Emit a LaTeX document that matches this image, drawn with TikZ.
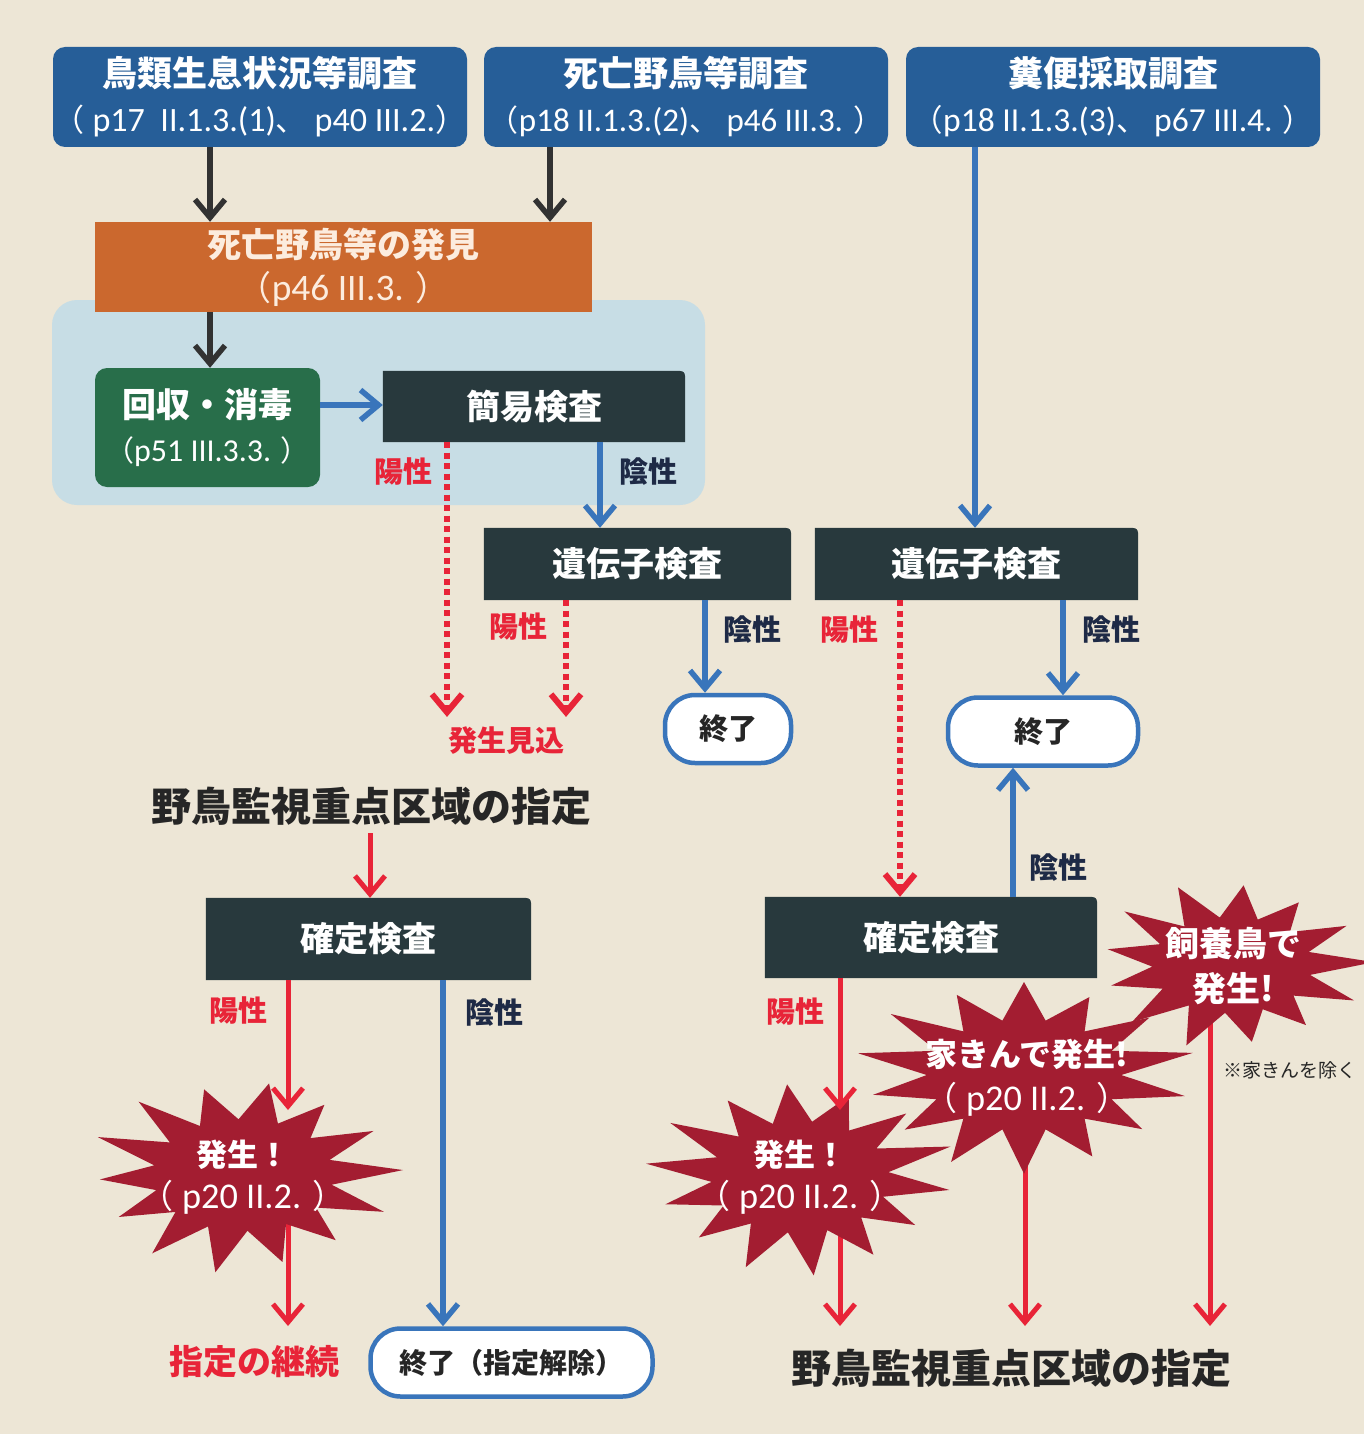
\documentclass[tikz,border=0pt]{standalone}
\usepackage{fontspec}
\setmainfont{Noto Sans CJK JP}
\newfontfamily\latfont{Carlito}[Scale=1.1]
\usetikzlibrary{arrows.meta}
\pgfdeclarelayer{bg}\pgfdeclarelayer{back}
\pgfsetlayers{bg,back,main}
\definecolor{bgc}{RGB}{237,230,214}
\definecolor{lb}{RGB}{199,221,229}
\definecolor{tb}{RGB}{38,94,152}
\definecolor{orc}{RGB}{203,104,46}
\definecolor{orctext}{RGB}{252,236,222}
\definecolor{grc}{RGB}{40,110,74}
\definecolor{dk}{RGB}{40,57,61}
\definecolor{arblue}{RGB}{57,117,187}
\definecolor{rd}{RGB}{232,36,56}
\definecolor{stared}{RGB}{163,29,49}
\definecolor{navy}{RGB}{30,42,70}
\definecolor{txd}{RGB}{38,38,38}
\definecolor{dkarrow}{RGB}{50,50,50}
\newcommand\fs[2]{\fontsize{#1pt}{#2pt}\selectfont}
\newcommand\lat[1]{{\latfont #1}}
\newcommand\dkfill[1]{\begin{pgfonlayer}{back}\fill[dk] (#1.south west) -- (#1.north west) -- ([xshift=-12pt]#1.north east) .. controls (#1.north east) .. ([yshift=-12pt]#1.north east) -- (#1.south east) -- cycle;\end{pgfonlayer}}
% cx cy rx ry ratio (2n-1) rot
\newcommand\burst[7]{\fill[stared] plot[variable=\t, samples at={0,...,#6}] ({#1+#3*ifthenelse(mod(\t,2)==0,1+0.07*sin(\t*137),#5)*cos(\t*360/(#6+1)+#7)},{#2+#4*ifthenelse(mod(\t,2)==0,1+0.07*sin(\t*137),#5)*sin(\t*360/(#6+1)+#7)}) -- cycle;}
\begin{document}
\begin{tikzpicture}[x=1pt,y=-1pt,
  topbox/.style={fill=tb, rounded corners=12pt, text=white, align=center, minimum height=100pt, inner sep=0pt, font={\fs{35}{45}}},
  obox/.style={fill=orc, text=orctext, align=center, inner sep=0pt, font={\fs{34}{43}}},
  gbox/.style={fill=grc, rounded corners=12pt, text=white, align=center, inner sep=0pt, font={\fs{34}{44}}},
  dkbox/.style={text=white, inner sep=0pt, font={\fs{34}{40}\bfseries}},
  endbox/.style={draw=arblue, line width=4.5pt, fill=white, rounded corners=30pt, text=txd, inner sep=0pt, font={\fs{29}{34}\bfseries}},
  lab/.style={inner sep=2pt, font={\fs{29}{34}\bfseries}},
  poslab/.style={lab, text=rd},
  neglab/.style={lab, text=navy},
  sttext/.style={text=white, align=center, inner sep=0pt, font={\fs{31}{42}}},
  arr/.style={line width=5.5pt, -{Straight Barb[length=18pt,width=30pt]}},
  blk/.style={arr, draw=dkarrow},
  blu/.style={arr, draw=arblue},
  rdarr/.style={arr, line width=5pt, draw=rd},
  rdot/.style={rdarr, line width=6pt, dash pattern=on 6pt off 4.5pt},
]
\begin{pgfonlayer}{bg}
\fill[bgc] (0,0) rectangle (1364,1434);
\fill[lb, rounded corners=25pt] (52,300) rectangle (705,505);
\end{pgfonlayer}
\useasboundingbox (0,0) rectangle (1364,1434);

\foreach \n/\v in {xa/210,xb/550,xc/975,xd/447,xe/600,xf/566,xg/705,xh/900,xi/1063,xj/370,xk/288,xl/443,xm/1013,xn/840,xo/1025,xp/1210}
  \coordinate (\n) at (\v,0);
\coordinate (ya) at (0,405);
\coordinate (bot) at (0,1326);
\coordinate (s1top) at (288,1110);
\coordinate (s2top) at (840,1110);

% top boxes
\node[topbox, minimum width=414pt] (b1) at (260,97) {\textbf{鳥類生息状況等調査}\\{\fs{31}{45}（\lat{ p17\ \ II.1.3.(1)}、\lat{ p40 III.2.}）}};
\node[topbox, minimum width=404pt] (b2) at (686,97) {\textbf{死亡野鳥等調査}\\{\fs{30}{45}（\lat{p18 II.1.3.(2)}、\lat{ p46 III.3. }）}};
\node[topbox, minimum width=414pt] (b3) at (1113,97) {\textbf{糞便採取調査}\\{\fs{30.5}{45}（\lat{p18 II.1.3.(3)}、\lat{ p67 III.4. }）}};

\node[obox, minimum width=497pt, minimum height=90pt] (o) at (343.5,267) {\textbf{死亡野鳥等の発見}\\{\fs{34}{43}（\lat{p46 III.3. }）}};
\node[gbox, minimum width=225pt, minimum height=119pt] (g) at (207.5,427.5) {\textbf{回収・消毒}\\{\fs{29}{44}（\lat{p51 III.3.3. }）}};

\node[dkbox, minimum width=302pt, minimum height=71pt] (k0) at (534,406.5) {簡易検査};
\node[dkbox, minimum width=307pt, minimum height=72pt] (i1) at (637.5,564) {遺伝子検査};
\node[dkbox, minimum width=323pt, minimum height=72pt] (i2) at (976.5,564) {遺伝子検査};
\node[dkbox, minimum width=325pt, minimum height=82pt] (k1) at (368.5,939) {確定検査};
\node[dkbox, minimum width=332pt, minimum height=81pt] (k2) at (931,937.5) {確定検査};
\dkfill{k0}\dkfill{i1}\dkfill{i2}\dkfill{k1}\dkfill{k2}

\node[endbox, minimum width=126pt, minimum height=68pt] (e1) at (728,729) {終了};
\node[endbox, minimum width=190pt, minimum height=68pt] (e2) at (1043,731.5) {終了};
\node[endbox, minimum width=282pt, minimum height=68pt, font={\fs{28}{34}\bfseries}] (e3) at (511.5,1362.5) {終了（指定解除）};

% labels
\node[poslab] (p1) at (403,472) {陽性};
\node[neglab] (n1) at (648,472) {陰性};
\node[poslab] (p2) at (518,627) {陽性};
\node[neglab] (n2) at (752,630) {陰性};
\node[poslab] (p3) at (849,630) {陽性};
\node[neglab] (n3) at (1111,630) {陰性};
\node[poslab] (p4) at (238,1010) {陽性};
\node[neglab] (n4) at (494,1013) {陰性};
\node[poslab] (p5) at (795,1011) {陽性};
\node[neglab] (n5) at (1058,868) {陰性};

\node[lab, text=rd] (mik) at (506,741) {発生見込};
\node[inner sep=2pt, text=txd, font={\fs{40}{44}\bfseries}] (t1) at (371,806) {野鳥監視重点区域の指定};
\node[inner sep=2pt, text=rd, font={\fs{34}{40}\bfseries}] (keizoku) at (254,1362) {指定の継続};
\node[inner sep=2pt, text=txd, font={\fs{40}{44}\bfseries}] (t2) at (1011,1368) {野鳥監視重点区域の指定};
\node[inner sep=1pt, text=txd, font={\fs{19}{22}}] (note) at (1290,1070) {※家きんを除く};

% starbursts
\burst{243}{1175}{150}{93}{0.6}{27}{-80}
\burst{800}{1177}{148}{93}{0.6}{27}{-95}
\burst{1024}{1075}{162}{93}{0.6}{27}{-90}
\burst{1232}{965}{133}{80}{0.6}{25}{-85}
\node[sttext] (s1) at (243,1177) {\textbf{発生！}\\{\fs{33}{42}（\lat{ p20 II.2. }）}};
\node[sttext] (s2) at (800,1177) {\textbf{発生！}\\{\fs{33}{42}（\lat{ p20 II.2. }）}};
\node[sttext, font={\fs{32}{44}}] (s3) at (1027,1078) {\textbf{家きんで発生!}\\{\fs{33}{44}（\lat{ p20 II.2. }）}};
\node[sttext, font={\fs{34}{45}}] (s4) at (1233,966) {\textbf{飼養鳥で}\\\textbf{発生!}};

% connectors
\draw[blk] (b1.south -| xa) -- (o.north -| xa);
\draw[blk] (b2.south -| xb) -- (o.north -| xb);
\draw[blk] (o.south -| xa) -- (g.north -| xa);
\draw[blu] (g.east |- ya) -- (k0.west |- ya);
\draw[rdot] (k0.south -| xd) -- ([yshift=8pt]mik.north -| xd);
\draw[blu] (k0.south -| xe) -- (i1.north -| xe);
\draw[rdot] (i1.south -| xf) -- ([yshift=8pt]mik.north -| xf);
\draw[blu] (i1.south -| xg) -- (e1.north -| xg);
\draw[blu] (b3.south -| xc) -- (i2.north -| xc);
\draw[rdot] (i2.south -| xh) -- (k2.north -| xh);
\draw[blu] (i2.south -| xi) -- (e2.north -| xi);
\draw[blu] (k2.north -| xm) -- (e2.south -| xm);
\draw[rdarr, shorten <=6pt] (t1.south -| xj) -- (k1.north -| xj);
\draw[blu] (k1.south -| xl) -- (e3.north -| xl);
\draw[rdarr] (k1.south -| xk) -- (s1top);
\draw[rdarr] (k2.south -| xn) -- (s2top);
\begin{pgfonlayer}{back}
\draw[rdarr] (s1.center -| xk) -- (bot -| xk);
\draw[rdarr] (s2.center -| xn) -- (bot -| xn);
\draw[rdarr] (s3.center -| xo) -- (bot -| xo);
\draw[rdarr] (s4.center -| xp) -- (bot -| xp);
\end{pgfonlayer}
\end{tikzpicture}
\end{document}
